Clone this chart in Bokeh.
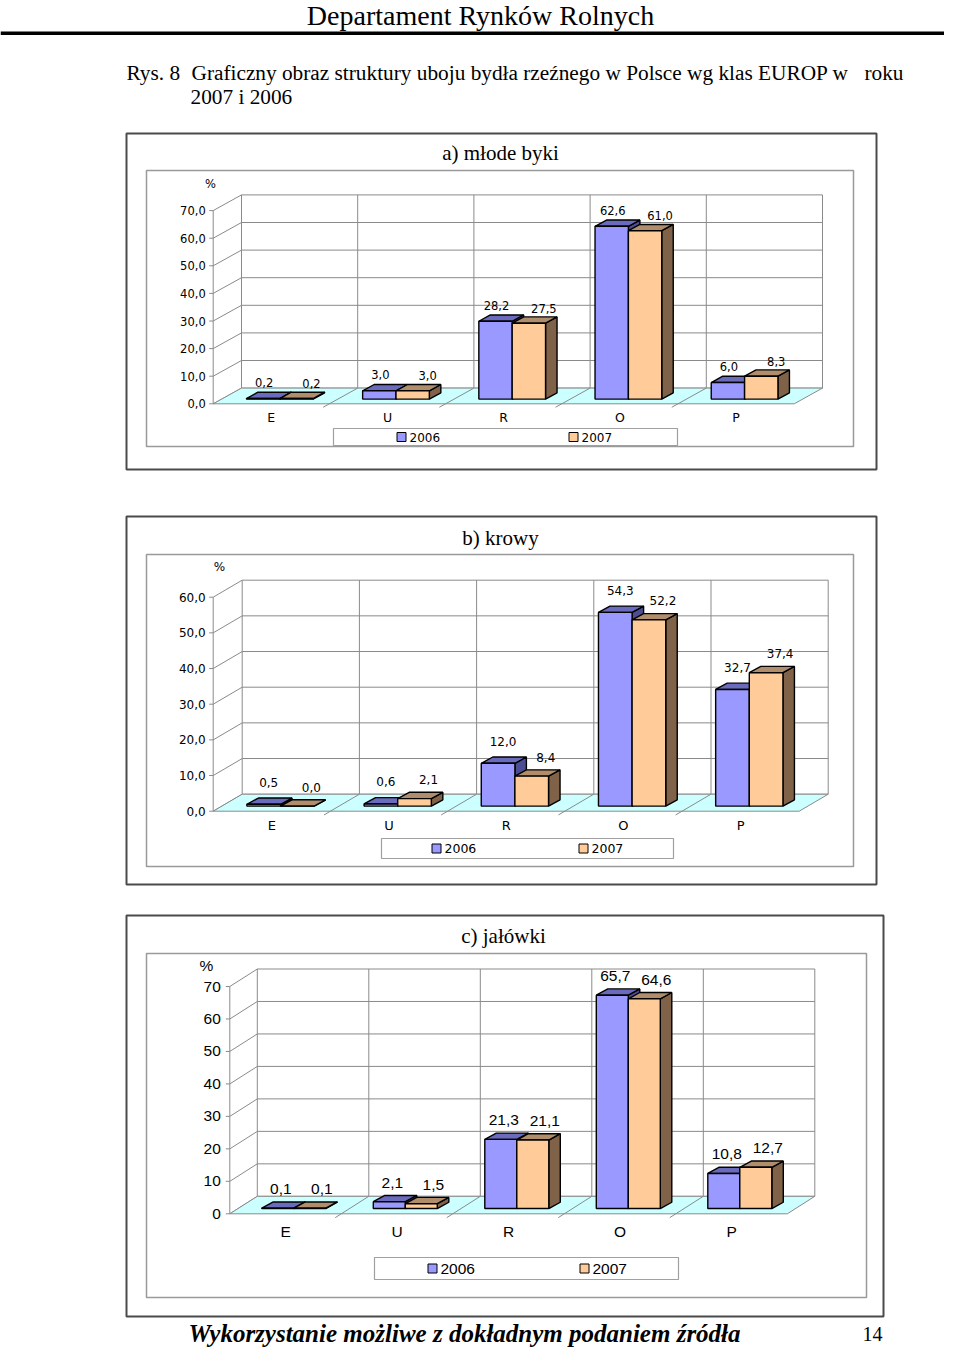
from bokeh.plotting import figure
from bokeh.models import Range1d
from bokeh.core.properties import value
from bokeh.embed import file_html
from bokeh.resources import INLINE

# ---------------- data ----------------
categories = ["E", "U", "R", "O", "P"]
series = ["2006", "2007"]

a_2006 = [0.2, 3.0, 28.2, 62.6, 6.0]
a_2007 = [0.2, 3.0, 27.5, 61.0, 8.3]
b_2006 = [0.5, 0.6, 12.0, 54.3, 32.7]
b_2007 = [0.0, 2.1, 8.4, 52.2, 37.4]
c_2006 = [0.1, 2.1, 21.3, 65.7, 10.8]
c_2007 = [0.1, 1.5, 21.1, 64.6, 12.7]

a_ticks = [0, 10, 20, 30, 40, 50, 60, 70]
a_tick_labels = ["0,0", "10,0", "20,0", "30,0", "40,0", "50,0", "60,0", "70,0"]
b_ticks = [0, 10, 20, 30, 40, 50, 60]
b_tick_labels = ["0,0", "10,0", "20,0", "30,0", "40,0", "50,0", "60,0"]
c_ticks = [0, 10, 20, 30, 40, 50, 60, 70]
c_tick_labels = ["0", "10", "20", "30", "40", "50", "60", "70"]

titles = ["a) młode byki", "b) krowy", "c) jałówki"]
unit_label = "%"
header_text = "Departament Rynków Rolnych"
caption_num = "Rys. 8"
caption_main = "Graficzny obraz struktury uboju bydła rzeźnego w Polsce wg klas EUROP w"
caption_end = "roku"
caption_line2 = "2007 i 2006"
footer_text = "Wykorzystanie możliwe z dokładnym podaniem źródła"
page_number = "14"

# ---------------- style / layout ----------------
SERIF = "Liberation Serif"
SANS = "Liberation Sans"
WIDE = "DejaVu Sans"
C06_FRONT, C06_TOP, C06_SIDE = "#9999ff", "#6b6bbd", "#4d4d94"
C07_FRONT, C07_TOP, C07_SIDE = "#ffcc99", "#b08e6c", "#7f6248"
FLOOR = "#ccffff"
GRID = "#8a8a8a"
BAR_FRAC = 0.287       # bar width as fraction of category width
BAR_POS = 0.3          # bar front plane as fraction of wall depth
BAR_DEPTH = (11.5, -6.3)

LAYOUT = {
    "a": dict(x0=212.7, y0=403.3, K=2.76, S=116.2, wd=(28.3, -15.7),
              outer=(126, 133, 876, 469), area=(146, 170, 853, 446), title=(500, 152),
              pct=(210, 183), cat_dy=14, tick_gap=7.5, font=WIDE, tick_fs="11.5px",
              val_fs="11.5px", cat_fs="12.5px", off06=(1, 16), off07=(15, 15),
              legend=(333, 428, 677, 445), leg_sq=(401, 573), leg_fs="12px"),
    "b": dict(x0=212.7, y0=810.7, K=3.567, S=117.2, wd=(29.0, -17.0),
              outer=(126, 516, 876, 884), area=(146, 554, 853, 866), title=(500, 537),
              pct=(219, 566), cat_dy=14.5, tick_gap=7.5, font=WIDE, tick_fs="12px",
              val_fs="12px", cat_fs="13px", off06=(5, 22), off07=(14, 19),
              legend=(381, 838, 673, 858), leg_sq=(436, 583), leg_fs="12.5px"),
    "c": dict(x0=229.3, y0=1213.3, K=3.247, S=111.5, wd=(27.5, -17.5),
              outer=(126, 915, 883, 1316), area=(146, 953, 866, 1297), title=(503, 935),
              pct=(206, 965), cat_dy=17.5, tick_gap=9, font=SANS, tick_fs="15.5px",
              val_fs="15.5px", cat_fs="15.5px", off06=(3, 19), off07=(12, 19),
              legend=(374, 1257, 678, 1279), leg_sq=(432, 584), leg_fs="15.5px"),
}

PAGE_W, PAGE_H = 944, 1349

p = figure(width=PAGE_W, height=PAGE_H, x_range=Range1d(0, PAGE_W), y_range=Range1d(PAGE_H, 0),
           output_backend="svg", toolbar_location=None, min_border=0,
           x_axis_location=None, y_axis_location=None, outline_line_color=None,
           background_fill_color="white", border_fill_color="white")
p.grid.visible = False

xr, yr = {}, {}
for key, L in LAYOUT.items():
    xr[key] = Range1d((0 - L["x0"]) / L["S"], (PAGE_W - L["x0"]) / L["S"])
    yr[key] = Range1d((L["y0"] - PAGE_H) / L["K"], (L["y0"] - 0) / L["K"])
p.extra_x_ranges = xr
p.extra_y_ranges = yr


def txt(x, y, s, size, font=SANS, align="center", baseline="middle", style="normal",
        color="black", rn="default"):
    p.text(x=x, y=y, text=s, text_font=value(font), text_font_size=size, text_align=align,
           text_baseline=baseline, text_font_style=style, text_color=color,
           x_range_name=rn, y_range_name=rn)


# ---------------- page header / footer ----------------
txt([480], [15], [header_text], "28px", font=SERIF)
p.segment(x0=[0], y0=[32.7], x1=[PAGE_W], y1=[32.7], line_color="black", line_width=3.5)
txt([126], [72], [caption_num], "21.3px", font=SERIF, align="left")
txt([191], [72], [caption_main], "21.3px", font=SERIF, align="left")
txt([903], [72], [caption_end], "21.3px", font=SERIF, align="right")
txt([190], [96], [caption_line2], "21.3px", font=SERIF, align="left")
txt([464], [1333], [footer_text], "25px", font=SERIF, style="bold italic")
txt([872], [1333], [page_number], "20px", font=SERIF)


def fmt(v):
    return f"{v:.1f}".replace(".", ",")


def chart(key, v06, v07, ticks, tick_labels, title):
    L = LAYOUT[key]
    S, K = L["S"], L["K"]
    F = L["font"]
    n = len(categories)
    top = ticks[-1]
    WU, WV = L["wd"][0] / S, -L["wd"][1] / K

    # frames
    ol, ot, orr, ob = L["outer"]
    p.quad(left=[ol], right=[orr], top=[ot], bottom=[ob], fill_color="white",
           line_color="#4a4a4a", line_width=2)
    al, at, ar, ab = L["area"]
    p.quad(left=[al], right=[ar], top=[at], bottom=[ab], fill_color="white",
           line_color="#9a9a9a", line_width=1.5)
    txt([L["title"][0]], [L["title"][1]], [title], "21px", font=SERIF)
    txt([L["pct"][0]], [L["pct"][1]], [unit_label], L["tick_fs"], font=F)

    # walls and grid
    p.segment(x0=[WU] * len(ticks), y0=[t + WV for t in ticks],
              x1=[n + WU] * len(ticks), y1=[t + WV for t in ticks],
              line_color=GRID, line_width=1, x_range_name=key, y_range_name=key)
    p.segment(x0=[0] * len(ticks), y0=ticks, x1=[WU] * len(ticks), y1=[t + WV for t in ticks],
              line_color=GRID, line_width=1, x_range_name=key, y_range_name=key)
    p.segment(x0=[i + WU for i in range(n + 1)], y0=[WV] * (n + 1),
              x1=[i + WU for i in range(n + 1)], y1=[top + WV] * (n + 1),
              line_color=GRID, line_width=1, x_range_name=key, y_range_name=key)
    p.segment(x0=[0], y0=[0], x1=[0], y1=[top], line_color=GRID, line_width=1,
              x_range_name=key, y_range_name=key)
    p.segment(x0=[-4 / S] * len(ticks), y0=ticks, x1=[0] * len(ticks), y1=ticks,
              line_color=GRID, line_width=1, x_range_name=key, y_range_name=key)

    # floor
    p.patch(x=[0, n, n + WU, WU], y=[0, 0, WV, WV], fill_color=FLOOR, line_color=GRID,
            line_width=1, x_range_name=key, y_range_name=key)
    ext = 0.22
    p.segment(x0=[i + WU for i in range(1, n)], y0=[WV] * (n - 1),
              x1=[i - ext * WU for i in range(1, n)], y1=[-ext * WV] * (n - 1),
              line_color=GRID, line_width=1, x_range_name=key, y_range_name=key)

    # tick labels and category labels
    txt([-L["tick_gap"] / S] * len(ticks), ticks, tick_labels, L["tick_fs"], font=F,
        align="right", rn=key)
    txt([i + 0.5 for i in range(n)], [-L["cat_dy"] / K] * n, categories, L["cat_fs"],
        font=F, rn=key)

    # bars
    bw = BAR_FRAC
    bu, bv = BAR_POS * WU, BAR_POS * WV
    BDU, BDV = BAR_DEPTH[0] / S, -BAR_DEPTH[1] / K
    for s_idx, (vals, cf, ct, cs, off) in enumerate([
            (v06, C06_FRONT, C06_TOP, C06_SIDE, L["off06"]),
            (v07, C07_FRONT, C07_TOP, C07_SIDE, L["off07"])]):
        xs, ys, cols = [], [], []
        xc, bots, tops = [], [], []
        for i, v in enumerate(vals):
            cx = i + 0.5 + bu
            l = cx - bw if s_idx == 0 else cx
            r = l + bw
            base, tp = bv, bv + v
            xs.append([r, r + BDU, r + BDU, r])
            ys.append([base, base + BDV, tp + BDV, tp])
            cols.append(cs)
            xs.append([l, r, r + BDU, l + BDU])
            ys.append([tp, tp, tp + BDV, tp + BDV])
            cols.append(ct)
            xc.append((l + r) / 2)
            bots.append(base)
            tops.append(tp)
        p.patches(xs=xs, ys=ys, fill_color=cols, line_color="black", line_width=1.4,
                  x_range_name=key, y_range_name=key)
        p.vbar(x=xc, width=bw, bottom=bots, top=tops, fill_color=cf, line_color="black",
               line_width=1.4, x_range_name=key, y_range_name=key)
        txt([x + off[0] / S for x in xc], [t + off[1] / K for t in tops],
            [fmt(v) for v in vals], L["val_fs"], font=F, rn=key)

    # legend
    ll, lt, lr, lb = L["legend"]
    p.quad(left=[ll], right=[lr], top=[lt], bottom=[lb], fill_color="white",
           line_color="#a0a0a0", line_width=1.2)
    ym = (lt + lb) / 2
    for sq, name, col in zip(L["leg_sq"], series, [C06_FRONT, C07_FRONT]):
        p.quad(left=[sq - 4.5], right=[sq + 4.5], top=[ym - 4.5], bottom=[ym + 4.5],
               fill_color=col, line_color="black", line_width=1)
        txt([sq + 8], [ym], [name], L["leg_fs"], font=F, align="left")


chart("a", a_2006, a_2007, a_ticks, a_tick_labels, titles[0])
chart("b", b_2006, b_2007, b_ticks, b_tick_labels, titles[1])
chart("c", c_2006, c_2007, c_ticks, c_tick_labels, titles[2])

open("out.html", "w").write(file_html(p, INLINE))
